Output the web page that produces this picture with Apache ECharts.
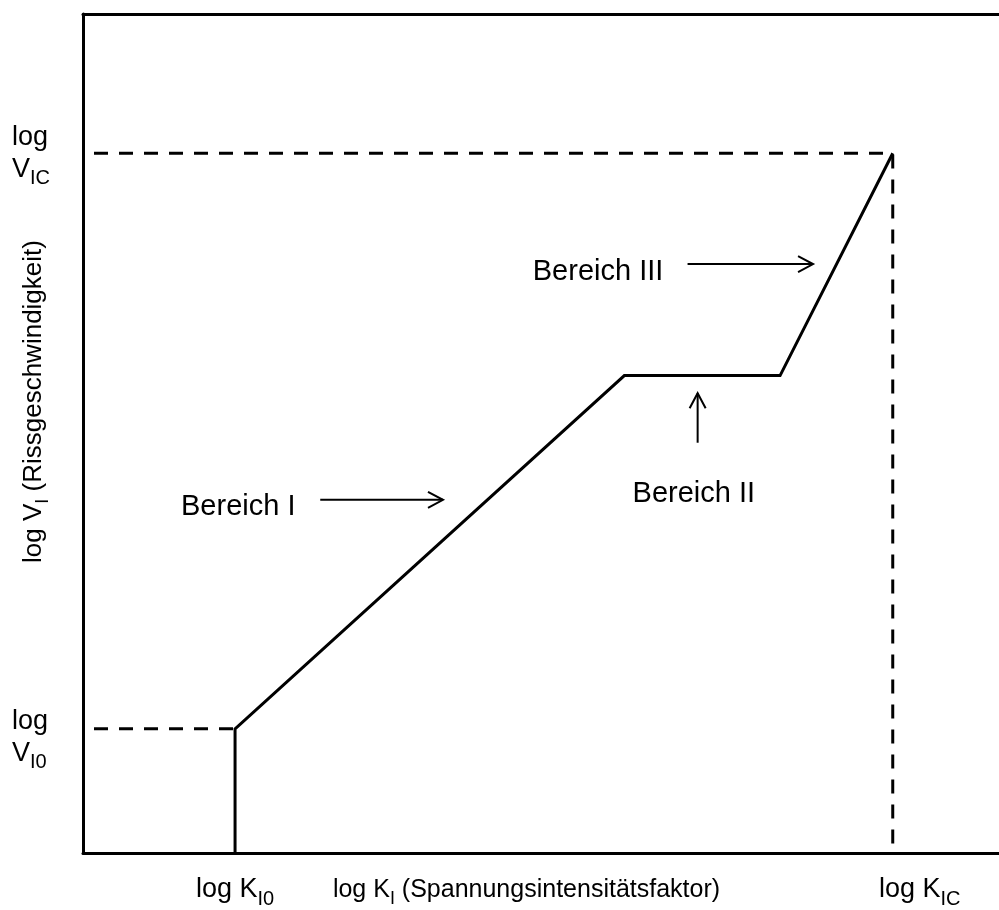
<!DOCTYPE html>
<html>
<head>
<meta charset="utf-8">
<script src="https://cdn.jsdelivr.net/npm/echarts@6/dist/echarts.min.js"></script>
<style>
html,body{margin:0;padding:0;background:#fff;}
#chart{width:999px;height:910px;}
</style>
</head>
<body>
<div id="chart"></div>
<script>
// ---- data (axis units 0..100, schematic log scale) ----
const xKeyValues = [16.6, 88.4];          // log K_I0, log K_IC
const xKeySubs = ['I0', 'IC'];
const yKeyValues = [14.8, 83.4];          // log V_I0, log V_IC
const yKeySubs = ['I0', 'IC'];

const curveX = [16.6, 16.6, 59.1, 76.1, 88.4];
const curveY = [0, 14.8, 56.9, 56.9, 83.4];

const guideTopX = [0, 88.4, 88.4];
const guideTopY = [83.4, 83.4, 0];
const guideBottomX = [0, 16.6];
const guideBottomY = [14.8, 14.8];

const annotationTexts = ['Bereich I', 'Bereich II', 'Bereich III'];
const annotationX = [10.7, 60.0, 49.1];
const annotationY = [41.2, 42.8, 69.3];

const arrowStartX = [25.9, 67.1, 66.0];
const arrowStartY = [42.1, 48.9, 70.2];
const arrowEndX = [39.3, 67.1, 79.7];
const arrowEndY = [42.1, 54.8, 70.2];

const xTitleMain = 'log K';
const xTitleSub = 'I';
const xTitleRest = ' (Spannungsintensitätsfaktor)';
const yTitleMain = 'log V';
const yTitleSub = 'I';
const yTitleRest = ' (Rissgeschwindigkeit)';

// ---- chart ----
const FONT = '"Liberation Sans", Arial, Helvetica, sans-serif';
const zip = (a, b) => a.map((v, i) => [v, b[i]]);
const nearestIdx = (arr, v) => {
  let best = 0;
  arr.forEach((a, i) => { if (Math.abs(a - v) < Math.abs(arr[best] - v)) best = i; });
  return best;
};

const richBase = {
  m: { fontSize: 27, fontFamily: FONT, color: '#000', lineHeight: 32 },
  mt: { fontSize: 27, fontFamily: FONT, color: '#000', lineHeight: 32, padding: [18, 0, 0, 0] },
  mr: { fontSize: 27, fontFamily: FONT, color: '#000', lineHeight: 32, padding: [0, 0, 0, 54] },
  s: { fontSize: 20, fontFamily: FONT, color: '#000', lineHeight: 14, padding: [18, 0, 0, 0] },
  st: { fontSize: 20, fontFamily: FONT, color: '#000', lineHeight: 14, padding: [36, 0, 0, 0] }
};

const chart = echarts.init(document.getElementById('chart'), null, { renderer: 'canvas' });

const option = {
  animation: false,
  backgroundColor: '#fff',
  grid: { left: 83, right: 0, top: 14, bottom: 57, containLabel: false, outerBoundsMode: 'none' },
  xAxis: [
    {
      type: 'value', position: 'bottom', min: 0, max: 100,
      axisLine: { show: true, lineStyle: { color: '#000', width: 3 } },
      axisTick: { show: false },
      splitLine: { show: false },
      axisLabel: {
        customValues: xKeyValues,
        margin: 21,
        verticalAlign: 'top',
        formatter: function (v) {
          const i = nearestIdx(xKeyValues, v);
          return (i === 1 ? '{mr|log K}' : '{m|log K}') + '{s|' + xKeySubs[i] + '}';
        },
        rich: richBase
      },
      name: '{m|' + xTitleMain + '}{s|' + xTitleSub + '}{m|' + xTitleRest + '}',
      nameLocation: 'middle',
      nameGap: 21,
      nameMoveOverlap: false,
      nameTextStyle: {
        padding: [0, 29, 0, 0],
        verticalAlign: 'top',
        rich: {
          m: { fontSize: 25, fontFamily: FONT, color: '#000', lineHeight: 32 },
          s: { fontSize: 18, fontFamily: FONT, color: '#000', lineHeight: 14, padding: [18, 0, 0, 0] }
        }
      }
    },
    {
      type: 'value', position: 'top', min: 0, max: 100,
      axisLine: { show: true, lineStyle: { color: '#000', width: 3 } },
      axisTick: { show: false },
      axisLabel: { show: false },
      splitLine: { show: false }
    }
  ],
  yAxis: {
    type: 'value', min: 0, max: 100,
    axisLine: { show: true, lineStyle: { color: '#000', width: 3 } },
    axisTick: { show: false },
    splitLine: { show: false },
    axisLabel: {
      customValues: yKeyValues,
      align: 'left',
      margin: 71,
      formatter: function (v) {
        const i = nearestIdx(yKeyValues, v);
        if (i === 0) return '{mt|log}\n{mt|V}{st|' + yKeySubs[i] + '}';
        return '{m|log}\n{m|V}{s|' + yKeySubs[i] + '}';
      },
      rich: richBase
    },
    name: '{m|' + yTitleMain + '}{s|' + yTitleSub + '}{m|' + yTitleRest + '}',
    nameLocation: 'middle',
    nameGap: 33,
    nameMoveOverlap: false,
    nameTextStyle: {
      padding: [0, 0, 0, 64],
      rich: {
        m: { fontSize: 26, fontFamily: FONT, color: '#000', lineHeight: 32 },
        s: { fontSize: 18, fontFamily: FONT, color: '#000', lineHeight: 14, padding: [18, 0, 0, 0] }
      }
    }
  },
  series: [
    {
      name: 'guideTop', type: 'line', xAxisIndex: 0,
      data: zip(guideTopX, guideTopY),
      symbol: 'none', silent: true,
      lineStyle: { color: '#000', width: 3, type: [14, 11], dashOffset: 14, join: 'miter', cap: 'butt' }
    },
    {
      name: 'guideBottom', type: 'line', xAxisIndex: 0,
      data: zip(guideBottomX, guideBottomY),
      symbol: 'none', silent: true,
      lineStyle: { color: '#000', width: 3, type: [14, 11], dashOffset: 14, cap: 'butt' }
    },
    {
      name: 'curve', type: 'line', xAxisIndex: 0,
      data: zip(curveX, curveY),
      symbol: 'none', silent: true,
      lineStyle: { color: '#000', width: 3, join: 'miter' }
    },
    {
      name: 'arrows', type: 'custom', xAxisIndex: 0, silent: true,
      data: arrowStartX.map((x, i) => [x, arrowStartY[i], arrowEndX[i], arrowEndY[i]]),
      encode: { x: [0, 2], y: [1, 3] },
      renderItem: function (params, api) {
        const p1 = api.coord([api.value(0), api.value(1)]);
        const p2 = api.coord([api.value(2), api.value(3)]);
        const dx = p2[0] - p1[0], dy = p2[1] - p1[1];
        const len = Math.sqrt(dx * dx + dy * dy) || 1;
        const ux = dx / len, uy = dy / len;
        const nx = -uy, ny = ux;
        const hl = 15, hw = 8;
        const b = [p2[0] - ux * hl, p2[1] - uy * hl];
        const style = { stroke: '#000', lineWidth: 2, fill: null };
        return {
          type: 'group',
          children: [
            { type: 'line', shape: { x1: p1[0], y1: p1[1], x2: p2[0], y2: p2[1] }, style: style },
            { type: 'polyline', shape: { points: [[b[0] + nx * hw, b[1] + ny * hw], p2, [b[0] - nx * hw, b[1] - ny * hw]] }, style: style }
          ]
        };
      }
    },
    {
      name: 'annotations', type: 'custom', xAxisIndex: 0, silent: true,
      data: annotationX.map((x, i) => [x, annotationY[i], i]),
      encode: { x: 0, y: 1 },
      renderItem: function (params, api) {
        const p = api.coord([api.value(0), api.value(1)]);
        return {
          type: 'text',
          style: {
            text: annotationTexts[api.value(2)],
            x: p[0], y: p[1],
            fill: '#000',
            font: '29px ' + FONT,
            align: 'left',
            verticalAlign: 'middle'
          }
        };
      }
    }
  ]
};

chart.setOption(option);
</script>
</body>
</html>
